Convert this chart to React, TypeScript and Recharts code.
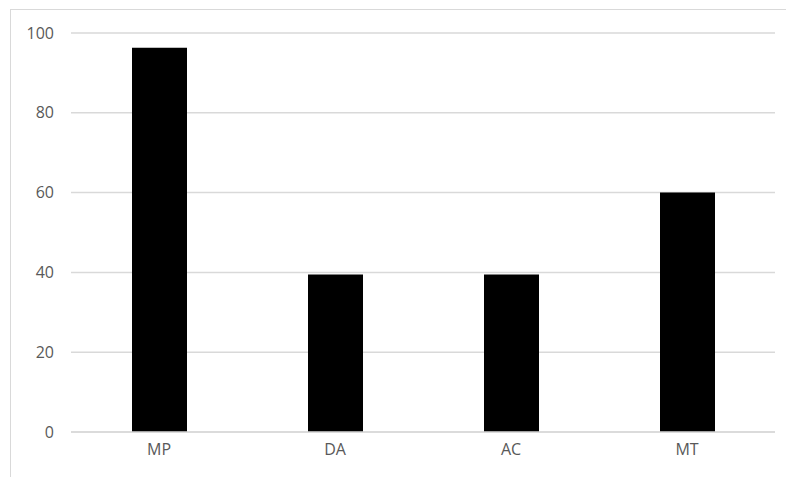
import { BarChart, Bar, XAxis, YAxis, CartesianGrid } from 'recharts';

const categories = ['MP', 'DA', 'AC', 'MT'];
const values = [96.3, 39.5, 39.5, 60];
const yTicks = [0, 20, 40, 60, 80, 100];

const data = categories.map((name, i) => ({ name, value: values[i] }));

const tickStyle = { fill: '#595959', fontSize: 16, fontFamily: 'Open Sans, Liberation Sans, sans-serif' };

export default function App() {
    return (
        <div style={{ position: 'absolute', left: 0, top: 0, width: 786, height: 477, background: '#fff' }}>
            <div
                style={{
                    position: 'absolute',
                    left: 10,
                    top: 9,
                    right: 0,
                    bottom: 0,
                    borderLeft: '1px solid #d9d9d9',
                    borderTop: '1px solid #d9d9d9',
                }}
            />
            <BarChart
                width={786}
                height={477}
                data={data}
                margin={{ top: 33, right: 11, bottom: 0, left: 11 }}
                barCategoryGap={0}
            >
                <CartesianGrid vertical={false} stroke="#d9d9d9" strokeWidth={1.5} />
                <XAxis
                    dataKey="name"
                    axisLine={{ stroke: '#d9d9d9', strokeWidth: 1.5 }}
                    tickLine={false}
                    tickSize={0}
                    tickMargin={12}
                    tick={tickStyle}
                    height={45}
                />
                <YAxis
                    width={60}
                    domain={[0, 100]}
                    ticks={yTicks}
                    axisLine={false}
                    tickLine={false}
                    tickSize={0}
                    tickMargin={17}
                    tick={tickStyle}
                />
                <Bar dataKey="value" fill="#000" barSize={55} isAnimationActive={false} />
            </BarChart>
        </div>
    );
}
